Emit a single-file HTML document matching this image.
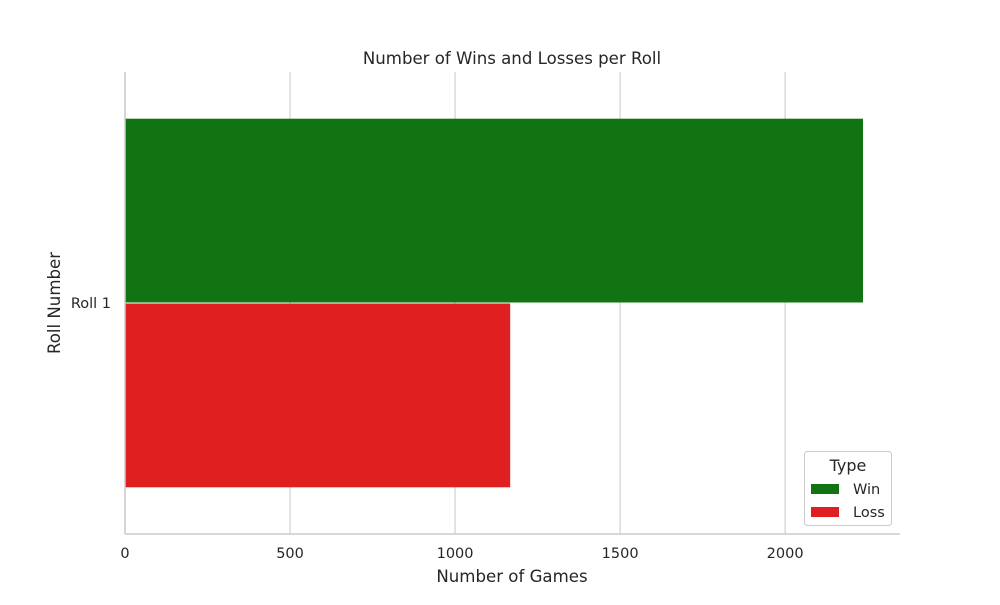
<!DOCTYPE html>
<html><head><meta charset="utf-8"><style>
body{margin:0;background:#fff;font-family:"Liberation Sans","DejaVu Sans",sans-serif;}
svg text{font-family:"DejaVu Sans","Liberation Sans",sans-serif;fill:#262626;}
</style></head><body>
<svg id="chart" width="1000" height="600">
<rect width="1000" height="600" fill="#fff"/>
<text x="512" y="64" text-anchor="middle" font-size="16.6">Number of Wins and Losses per Roll</text>
<g id="grid"></g><g id="bars"></g><g id="axes"></g>
<text x="512" y="582" text-anchor="middle" font-size="16.6">Number of Games</text>
<text transform="translate(60,303) rotate(-90)" text-anchor="middle" font-size="16.6">Roll Number</text>
<g>
<rect x="804.5" y="451.5" width="87" height="74" rx="3" fill="#fff" stroke="#ccc"/>
<text x="848" y="471" text-anchor="middle" font-size="16">Type</text>
<rect x="811" y="484" width="28" height="10" fill="#117311"/>
<text x="853" y="494" font-size="14.5">Win</text>
<rect x="811" y="507" width="28" height="10" fill="#e02020"/>
<text x="853" y="517" font-size="14.5">Loss</text>
</g>
</svg>
<script>
const categories=["Roll 1"];
const seriesNames=["Win","Loss"];
const winValues=[2236];
const lossValues=[1167];
const xTicks=[0,500,1000,1500,2000];
const NS="http://www.w3.org/2000/svg";
const L=125,R=900,T=72,B=534,xMax=2348;
const x=v=>L+v/xMax*(R-L);
function mk(t,a,p){const e=document.createElementNS(NS,t);for(const k in a)e.setAttribute(k,a[k]);p.appendChild(e);return e;}
const grid=document.getElementById('grid'),bars=document.getElementById('bars'),axes=document.getElementById('axes');
xTicks.forEach(v=>{
 const g=mk('line',{x1:x(v),x2:x(v),y1:T,y2:B,stroke:'#d0d0d0','stroke-width':1.2},grid);
 
 
 const t=mk('text',{x:x(v),y:B+24,'text-anchor':'middle','font-size':14.5},axes);t.textContent=v;
 
 
});
const band=(B-T)/categories.length;
categories.forEach((c,i)=>{
 const c0=T+i*band, inner=band*0.8, bw=inner/2, s=c0+band*0.1;
 [winValues[i],lossValues[i]].forEach((v,j)=>{
  const r=mk('rect',{x:x(0),y:s+j*bw+0.5,width:x(v)-x(0),height:bw-1,fill:j?'#e02020':'#117311'},bars);
  
  
 });
 const t=mk('text',{x:L-14,y:c0+band/2+5,'text-anchor':'end','font-size':14.5},axes);t.textContent=c;
 
 
});
const ax=mk('line',{x1:L,x2:R,y1:B,y2:B,stroke:'#ccc','stroke-width':1.5},axes);


const ay=mk('line',{x1:L,x2:L,y1:T,y2:B,stroke:'#ccc','stroke-width':1.5},axes);


</script>
</body></html>
